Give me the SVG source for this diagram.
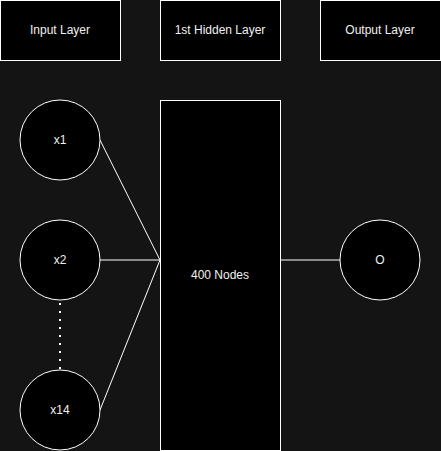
<svg xmlns="http://www.w3.org/2000/svg" width="441" height="451" viewBox="0 0 441 451">
<style>
.box{fill:#000;stroke:#fff;stroke-width:1}
.lbl{font-family:"Liberation Sans",Arial,sans-serif;font-size:12px;fill:#f0f0f0;text-anchor:middle;dominant-baseline:central}
.edge{stroke:#fff;stroke-width:1;fill:none}
</style>
<rect width="441" height="451" fill="#141414"/>
<g id="connectors">
<line class="edge" x1="100" y1="140" x2="160" y2="260"/>
<line class="edge" x1="100" y1="260" x2="160" y2="260"/>
<line class="edge" x1="100" y1="410" x2="160" y2="260"/>
<line class="edge" x1="280" y1="260" x2="340" y2="260"/>
<line x1="60" y1="303" x2="60" y2="370" stroke="#fff" stroke-width="2" stroke-dasharray="2 6"/>
</g>
<g id="input-layer"><rect class="box" x="0.5" y="0.5" width="120" height="60"/><text class="lbl" x="60" y="30">Input Layer</text></g>
<g id="hidden-layer-title"><rect class="box" x="160.5" y="0.5" width="120" height="60"/><text class="lbl" x="220" y="30">1st Hidden Layer</text></g>
<g id="output-layer"><rect class="box" x="320.5" y="0.5" width="120" height="60"/><text class="lbl" x="380" y="30">Output Layer</text></g>
<g id="x1"><circle class="box" cx="60" cy="140" r="40"/><text class="lbl" x="60" y="140">x1</text></g>
<g id="x2"><circle class="box" cx="60" cy="260" r="40"/><text class="lbl" x="60" y="260">x2</text></g>
<g id="x14"><circle class="box" cx="60" cy="410" r="40"/><text class="lbl" x="60" y="410">x14</text></g>
<g id="hidden"><rect class="box" x="160.5" y="100.5" width="120" height="350"/><text class="lbl" x="220" y="275">400 Nodes</text></g>
<g id="output"><circle class="box" cx="380" cy="260" r="40"/><text class="lbl" x="380" y="260">O</text></g>
</svg>
